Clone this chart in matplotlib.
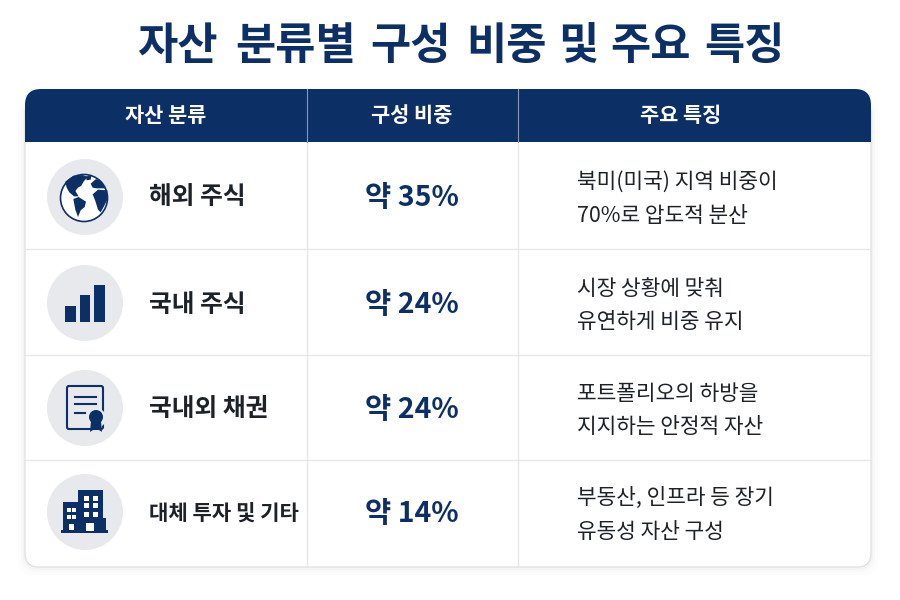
#!/usr/bin/env python3
import matplotlib
matplotlib.use('Agg')
import matplotlib.pyplot as plt
from matplotlib.patches import Circle, FancyBboxPatch, Polygon, Rectangle, PathPatch
from matplotlib.path import Path

plt.rcParams['font.family'] = ['Noto Sans CJK KR', 'DejaVu Sans']

NAVY = '#0c2f66'
GRID = '#e6e7ea'
DARK = '#1d2229'

title_words = ['자산', '분류별', '구성', '비중', '및', '주요', '특징']
headers = ['자산 분류', '구성 비중', '주요 특징']
categories = ['해외 주식', '국내 주식', '국내외 채권', '대체 투자 및 기타']
shares = ['약 35%', '약 24%', '약 24%', '약 14%']
features = [
    ['북미(미국) 지역 비중이', '70%로 압도적 분산'],
    ['시장 상황에 맞춰', '유연하게 비중 유지'],
    ['포트폴리오의 하방을', '지지하는 안정적 자산'],
    ['부동산, 인프라 등 장기', '유동성 자산 구성'],
]

title_x = [177, 296, 411, 506, 578, 651, 744]
row_lines = [142, 249, 355, 460, 567]
col_lines = [25, 307, 518, 871]
header_x = [166, 412, 681]
icon_y = [197, 303, 408, 512]
text_y = [197, 305, 409, 513]
share_y = [198, 305, 410, 514]
feature_y = [(182, 216), (289, 322), (394, 427), (498, 532)]

fig = plt.figure(figsize=(9, 6), dpi=100)
ax = fig.add_axes([0, 0, 1, 1])
ax.set_xlim(0, 900)
ax.set_ylim(600, 0)
ax.axis('off')


def rounded_top(x0, x1, y0, y1, r):
    verts = [(x0, y1), (x0, y0 + r), (x0, y0), (x0 + r, y0), (x1 - r, y0),
             (x1, y0), (x1, y0 + r), (x1, y1), (x0, y1)]
    codes = [Path.MOVETO, Path.LINETO, Path.CURVE3, Path.CURVE3, Path.LINETO,
             Path.CURVE3, Path.CURVE3, Path.LINETO, Path.CLOSEPOLY]
    return Path(verts, codes)


# crop coordinates of the globe picture, 3x around (50, 165)
def globe_poly(points):
    return Polygon([(50 + x / 3, 165 + y / 3) for x, y in points], fc=NAVY, ec='none')


# card with a faint shadow
for grow, col in [(7, '#fcfcfc'), (4, '#f9f9fa'), (2, '#f4f4f5')]:
    ax.add_patch(FancyBboxPatch((25 - grow, 100), 846 + 2 * grow, 467 + grow + 1,
                                boxstyle='round,pad=0,rounding_size=16', fc=col, ec='none'))
ax.add_patch(FancyBboxPatch((25, 100), 846, 467, boxstyle='round,pad=0,rounding_size=14',
                            fc='white', ec='#dcdde0', lw=0.8))
ax.add_patch(PathPatch(rounded_top(25, 871, 89, 142, 16), fc=NAVY, ec='none'))

# grid
for y in row_lines[1:-1]:
    ax.plot([25, 871], [y, y], color=GRID, lw=1)
for x in col_lines[1:-1]:
    ax.plot([x, x], [142, 567], color=GRID, lw=1)
    ax.plot([x, x], [89, 142], color='#8a9ab5', lw=0.8)

for x, word in zip(title_x, title_words):
    ax.text(x, 46, word, ha='center', va='center', fontsize=31.5, fontweight='bold', color=NAVY)

for x, h in zip(header_x, headers):
    ax.text(x, 116, h, ha='center', va='center', fontsize=15, fontweight='bold', color='white')

for i in range(4):
    ax.add_patch(Circle((85, icon_y[i]), 38, fc='#e8e9ed', ec='none'))
    size = 17.8 if i < 3 else 15.2
    ax.text(149, text_y[i], categories[i], ha='left', va='center', fontsize=size, fontweight='bold', color=DARK)
    ax.text(412, share_y[i], shares[i], ha='center', va='center', fontsize=20.5, fontweight='bold', color=NAVY)
    ax.text(577, feature_y[i][0], features[i][0], ha='left', va='center', fontsize=15.4, color=DARK)
    ax.text(577, feature_y[i][1], features[i][1], ha='left', va='center', fontsize=15.4, color=DARK)

# globe icon
ax.add_patch(Circle((84, 198), 23.5, fc='white', ec=NAVY, lw=1.2))
ax.add_patch(globe_poly([(46, 50), (70, 32), (98, 30), (114, 36), (102, 48), (94, 62), (84, 68), (76, 78), (86, 94), (72, 94), (58, 82), (50, 68)]))
ax.add_patch(globe_poly([(70, 102), (86, 96), (108, 110), (104, 126), (92, 136), (84, 156), (76, 134)]))
ax.add_patch(globe_poly([(128, 88), (144, 74), (172, 76), (172, 104), (162, 124), (152, 142), (144, 134), (136, 108)]))
ax.add_patch(globe_poly([(122, 56), (138, 42), (152, 48), (166, 70), (140, 70), (128, 68)]))
ax.add_patch(globe_poly([(108, 34), (124, 32), (122, 44), (110, 46)]))

# bars icon
ax.add_patch(Rectangle((65, 306), 11, 16, fc=NAVY, ec='none'))
ax.add_patch(Rectangle((80, 295), 10, 27, fc=NAVY, ec='none'))
ax.add_patch(Rectangle((94, 285), 11, 37, fc=NAVY, ec='none'))

# certificate icon
ax.add_patch(FancyBboxPatch((67, 386), 36, 43, boxstyle='round,pad=0,rounding_size=2', fc='none', ec=NAVY, lw=1.5))
for x1, y in [(96, 397), (96, 404), (85, 413)]:
    ax.plot([75, x1], [y, y], color=NAVY, lw=1.5)
ax.add_patch(Circle((96, 418), 10, fc='#e8e9ed', ec='none'))
ax.add_patch(Polygon([(91, 421), (101, 421), (102, 432), (96, 428), (90, 432)], fc=NAVY, ec='none'))
ax.add_patch(Circle((96, 417), 7, fc=NAVY, ec='none'))

# building icon
ax.add_patch(Rectangle((63, 502), 16, 30, fc=NAVY, ec='none'))
ax.add_patch(Rectangle((78, 490), 25, 42, fc=NAVY, ec='none'))
ax.add_patch(Rectangle((103, 518), 3, 14, fc=NAVY, ec='none'))
ax.add_patch(Rectangle((61, 530), 47, 3, fc=NAVY, ec='none'))
for x in [84, 93]:
    for y in [496, 503, 512]:
        ax.add_patch(Rectangle((x, y), 4.5, 4.5, fc='white', ec='none'))
for x in [67, 72]:
    for y in [508, 515]:
        ax.add_patch(Rectangle((x, y), 3.5, 3.5, fc='white', ec='none'))
ax.add_patch(Rectangle((69, 524), 4.5, 6, fc='white', ec='none'))
ax.add_patch(Rectangle((86, 523), 8, 8, fc='white', ec='none'))

fig.savefig('out.png', dpi=100)
